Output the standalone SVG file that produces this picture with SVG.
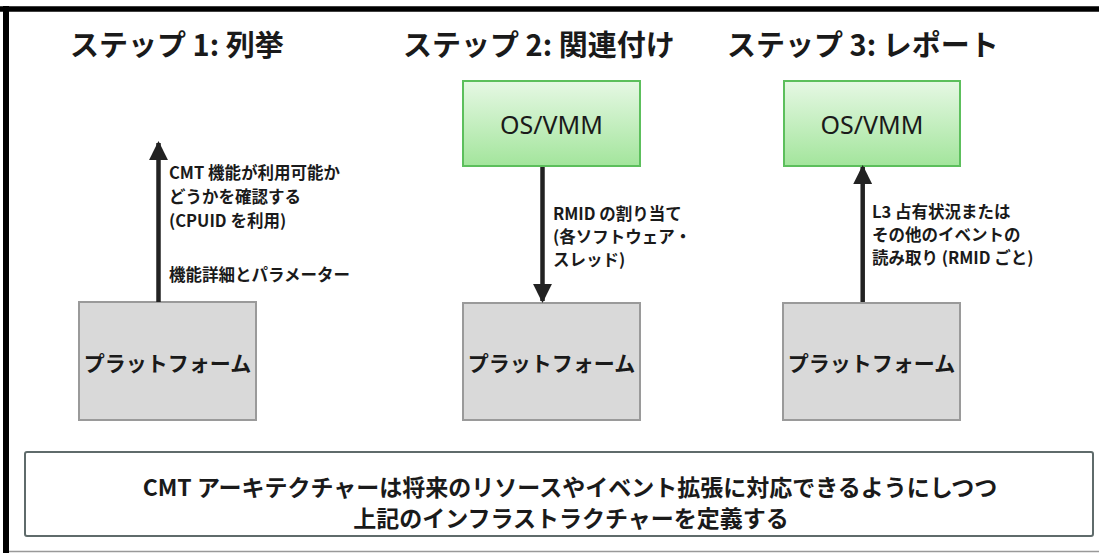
<svg xmlns="http://www.w3.org/2000/svg" width="1099" height="553" viewBox="0 0 1099 553">
<defs>
<linearGradient id="green" x1="0" y1="0" x2="0" y2="1">
<stop offset="0" stop-color="#e6f8e4"/>
<stop offset="1" stop-color="#a3e59c"/>
</linearGradient>
<marker id="ah" viewBox="0 0 10 10" refX="9" refY="5" markerWidth="4.2" markerHeight="4.2" markerUnits="strokeWidth" orient="auto">
<path d="M0,0 L10,5 L0,10 z" fill="#222"/>
</marker>
</defs>
<style>
text{font-family:"Noto Sans CJK JP","Noto Sans",sans-serif;fill:#1a1a1a;dominant-baseline:central}
.title{font-size:29px;font-weight:bold}
.lbl{font-size:16.5px;font-weight:bold}
.plat{font-size:21px;font-weight:bold;text-anchor:middle}
.os{font-family:"Noto Sans",sans-serif;font-size:25px;text-anchor:middle}
.foot{font-size:23px;font-weight:bold;text-anchor:middle}
.pbox{fill:#d9d9d9;stroke:#9a9a9a;stroke-width:2}
.gbox{fill:url(#green);stroke:#5cbf5c;stroke-width:2}
.conn{stroke:#222;stroke-width:4.5;fill:none;marker-end:url(#ah)}
</style>
<rect width="1099" height="553" fill="#fff"/>
<g id="frame">
<line x1="0" y1="9" x2="1099" y2="9" stroke="#000" stroke-width="5.5"/>
<line x1="6" y1="6" x2="6" y2="553" stroke="#000" stroke-width="6"/>
<line x1="9" y1="551.5" x2="1099" y2="551.5" stroke="#999" stroke-width="1.5"/>
</g>
<g id="titles">
<text class="title" x="70" y="43">ステップ 1: 列挙</text>
<text class="title" x="403" y="43">ステップ 2: 関連付け</text>
<text class="title" x="727" y="43">ステップ 3: レポート</text>
</g>
<g id="platform1"><rect class="pbox" x="79" y="302" width="177" height="118"/><text class="plat" x="167.5" y="362">プラットフォーム</text></g>
<g id="platform2"><rect class="pbox" x="463" y="303" width="177" height="117"/><text class="plat" x="551.5" y="362">プラットフォーム</text></g>
<g id="platform3"><rect class="pbox" x="783" y="303" width="177" height="117"/><text class="plat" x="871.5" y="362">プラットフォーム</text></g>
<g id="osvmm2"><rect class="gbox" x="463" y="81" width="177" height="85"/><text class="os" x="551.5" y="124">OS/VMM</text></g>
<g id="osvmm3"><rect class="gbox" x="784" y="81" width="176" height="85"/><text class="os" x="872" y="124">OS/VMM</text></g>
<g id="connectors">
<line class="conn" x1="158.5" y1="302" x2="158.5" y2="143"/>
<line class="conn" x1="542.5" y1="167" x2="542.5" y2="301"/>
<line class="conn" x1="862.7" y1="302" x2="862.7" y2="167"/>
</g>
<g id="labels">
<text class="lbl" x="169" y="172">CMT 機能が利用可能か</text>
<text class="lbl" x="169" y="196">どうかを確認する</text>
<text class="lbl" x="169" y="220">(CPUID を利用)</text>
<text class="lbl" x="169" y="274">機能詳細とパラメーター</text>
<text class="lbl" x="553" y="213">RMID の割り当て</text>
<text class="lbl" x="553" y="236">(各ソフトウェア・</text>
<text class="lbl" x="553" y="259">スレッド)</text>
<text class="lbl" x="872" y="211">L3 占有状況または</text>
<text class="lbl" x="872" y="234">その他のイベントの</text>
<text class="lbl" x="872" y="257">読み取り (RMID ごと)</text>
</g>
<g id="footer">
<rect x="25" y="452" width="1068" height="84" rx="2" fill="#fff" stroke="#5f6b6b" stroke-width="2"/>
<text class="foot" x="570" y="486">CMT アーキテクチャーは将来のリソースやイベント拡張に対応できるようにしつつ</text>
<text class="foot" x="571" y="517">上記のインフラストラクチャーを定義する</text>
</g>
</svg>
